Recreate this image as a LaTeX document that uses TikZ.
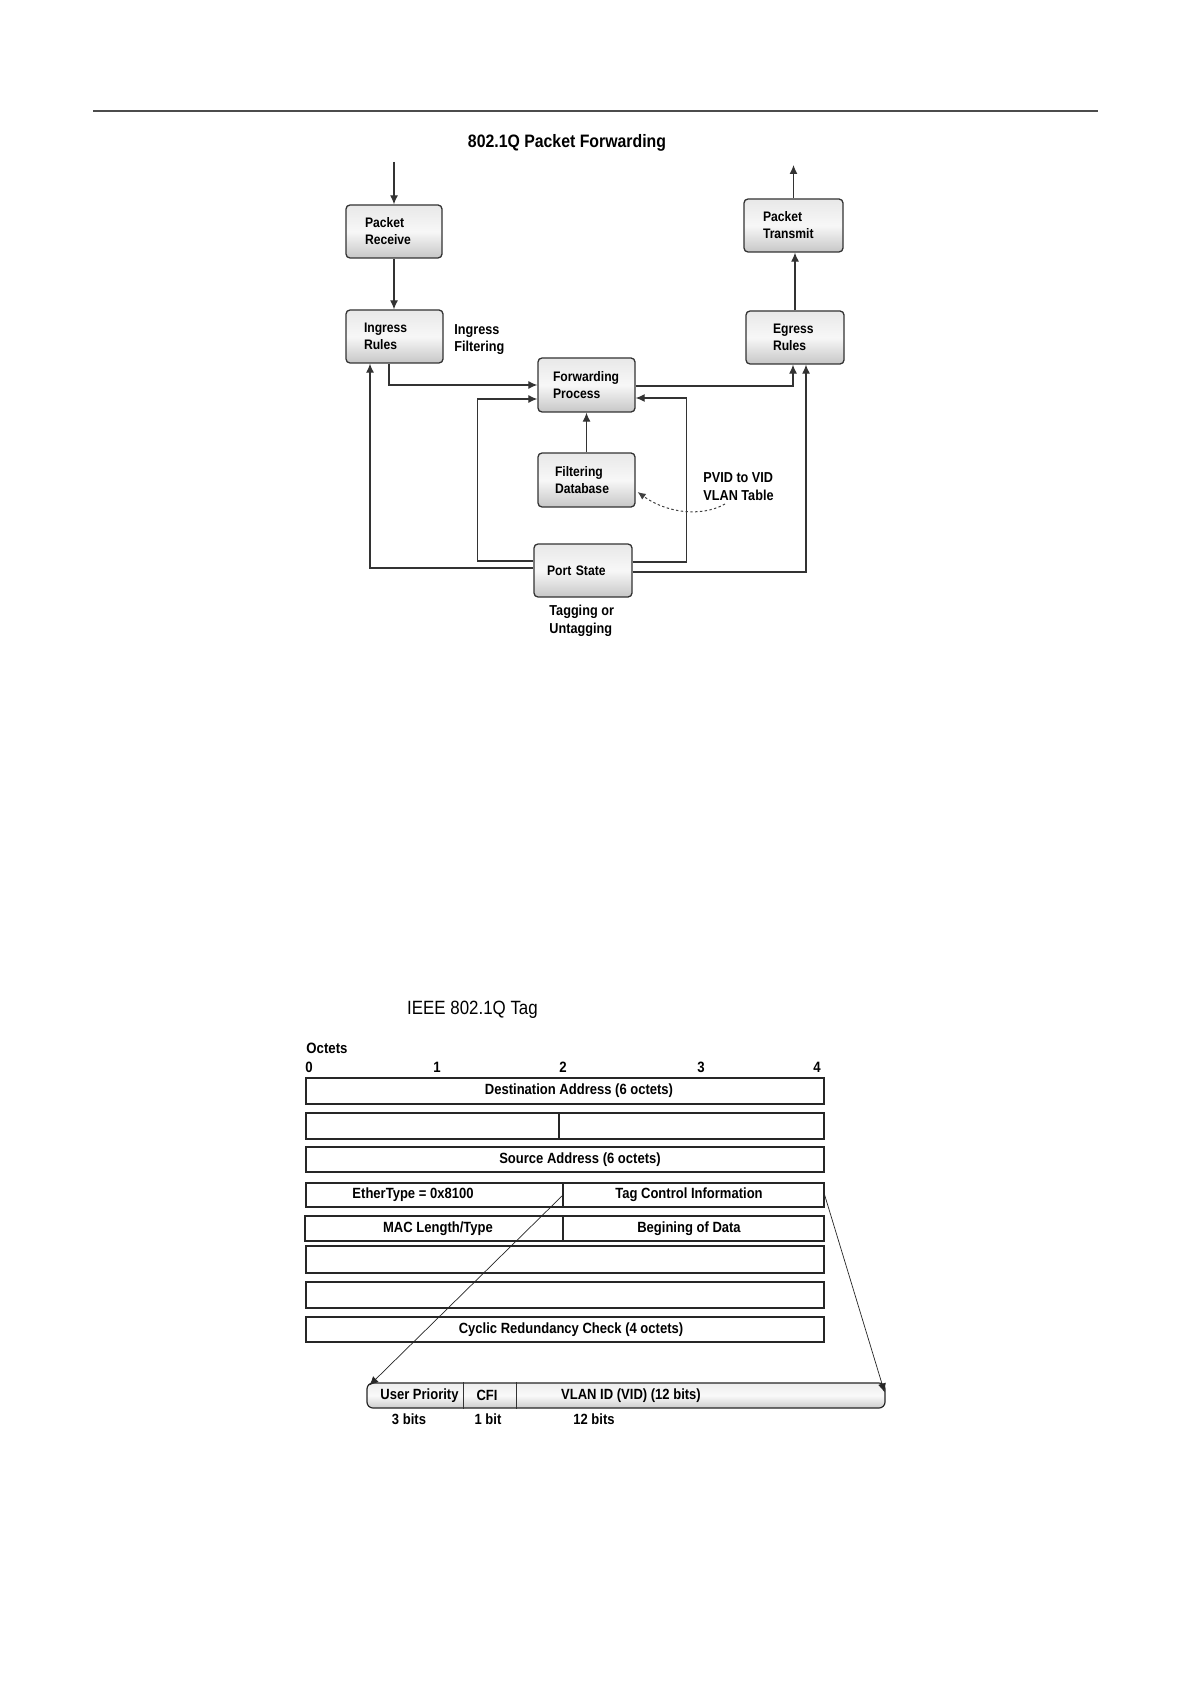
\documentclass[tikz,border=0pt]{standalone}
\usepackage{fontspec}
\setmainfont{Liberation Sans}[FakeStretch=0.88]
\usetikzlibrary{arrows.meta,calc}
\tikzset{
  fbox/.style={draw=black!80, line width=0.65pt, rounded corners=2pt,
    top color=black!9, bottom color=black!22, middle color=black!3,
    align=left, inner ysep=0pt, minimum height=26.5pt,
    font=\fontsize{6.9}{8.5}\selectfont\bfseries},
  flab/.style={align=left, inner sep=0pt, font=\fontsize{7.2}{8.8}\selectfont\bfseries},
  conn/.style={draw=black!80, line width=0.6pt, -{Latex[length=4.5pt,width=4pt]}},
  cell/.style={draw=black!85, line width=0.55pt, inner sep=0pt},
  ctext/.style={inner sep=0pt, font=\fontsize{7.4}{9}\selectfont\bfseries},
  thinarr/.style={draw=black!85, line width=0.35pt, -{Latex[length=4.5pt,width=4pt]}}
}
\begin{document}
\begin{tikzpicture}[x=0.5pt,y=-0.5pt]
\useasboundingbox (0,0) rectangle (1190,1684);
\fill[white] (0,0) rectangle (1190,1684);
% top rule
\coordinate (ruleL) at (93,111);
\coordinate (ruleR) at (1098,111);
\draw[black!70, line width=0.6pt] (ruleL) -- (ruleR);

% ---------- 802.1Q Packet Forwarding ----------
\node[inner sep=0pt, font=\fontsize{9}{11}\selectfont\bfseries] (title1) at (567,143) {802.1Q Packet Forwarding};

\node[fbox, inner xsep=9.5pt, text width=29pt] (PR) at (394,231.5) {Packet\\Receive};
\node[fbox, inner xsep=9pt, text width=30.5pt] (IR) at (394.5,336.5) {Ingress\\Rules};
\node[fbox, inner xsep=9.5pt, text width=30.5pt] (PT) at (793.5,225.5) {Packet\\Transmit};
\node[fbox, inner xsep=13.5pt, text width=22pt] (ER) at (795,337.5) {Egress\\Rules};
\node[fbox, inner xsep=7.5pt, text width=33.5pt, minimum height=27pt] (FP) at (586.5,385) {Forwarding\\Process};
\node[fbox, inner xsep=8.5pt, text width=31.5pt, minimum height=27pt] (FD) at (586.5,480) {Filtering\\Database};
\node[fbox, inner xsep=6.5pt, text width=36pt] (PS) at (583,570.5) {Port State};

\node[flab, anchor=west] (lIF) at (454,339.5) {Ingress\\Filtering};
\node[flab, anchor=west] (lPV) at (703,486.5) {PVID to VID\\VLAN Table};
\node[flab, anchor=west] (lTU) at (549,621) {Tagging or\\Untagging};

\coordinate (in) at (394,162);
\coordinate (out) at (793.5,165);

\draw[conn] (in) -- (PR.north);
\draw[conn] (PR.south) -- (PR.south |- IR.north);
\draw[conn] ($(IR.south)+(-5.5,0)$) |- (FP.west);
\draw[conn] ($(PS.west)+(0,-2.5)$) -| ($(IR.south)+(-24.5,0)$);
\draw[conn] ($(PS.west)+(0,-9.5)$) -| ($(FP.west)+(-60,14)$) -- ($(FP.west)+(0,14)$);
\draw[conn] ($(PS.east)+(0,-8.5)$) -| ($(FP.east)+(51,13)$) -- ($(FP.east)+(0,13)$);
\draw[conn] ($(FP.east)+(0,1)$) -| ($(ER.south)+(-2,0)$);
\draw[conn] ($(PS.east)+(0,1.5)$) -| ($(ER.south)+(11,0)$);
\draw[conn] (FD.north) -- (FD.north |- FP.south);
\draw[conn] (ER.north) -- (ER.north |- PT.south);
\draw[conn] (PT.north) -- (out);
\coordinate (pv) at (725,504);
\draw[draw=black!75, line width=0.5pt, dash pattern=on 1.2pt off 1.2pt,
  -{Latex[length=4pt,width=3.5pt]}]
  (pv) .. controls (700,518) and (665,512) .. ($(FD.east)+(2,12)$);

% ---------- IEEE 802.1Q Tag ----------
\node[inner sep=0pt, font=\fontsize{9.6}{11}\selectfont] (title2) at (472.5,1010) {IEEE 802.1Q Tag};
\node[ctext, anchor=west, font=\fontsize{7.5}{9}\selectfont\bfseries] (oct) at (306,1048) {Octets};
\node[ctext, font=\fontsize{7.5}{9}\selectfont\bfseries] (o0) at (309,1067) {0};
\node[ctext, font=\fontsize{7.5}{9}\selectfont\bfseries] (o1) at (437,1067) {1};
\node[ctext, font=\fontsize{7.5}{9}\selectfont\bfseries] (o2) at (563,1067) {2};
\node[ctext, font=\fontsize{7.5}{9}\selectfont\bfseries] (o3) at (701,1067) {3};
\node[ctext, font=\fontsize{7.5}{9}\selectfont\bfseries] (o4) at (817,1067) {4};

\node[cell, minimum width=259pt, minimum height=13pt] (r1) at (565,1091) {};
\node[cell, minimum width=126.5pt, minimum height=13pt] (r2a) at (432.5,1126) {};
\node[cell, minimum width=132.5pt, minimum height=13pt] (r2b) at (691.5,1126) {};
\node[cell, minimum width=259pt, minimum height=12.5pt] (r3) at (565,1159.5) {};
\node[cell, minimum width=128.5pt, minimum height=12pt] (r4a) at (434.5,1195) {};
\node[cell, minimum width=130.5pt, minimum height=12pt] (r4b) at (693.5,1195) {};
\node[cell, minimum width=129pt, minimum height=12.5pt] (r5a) at (434,1228.5) {};
\node[cell, minimum width=130.5pt, minimum height=12.5pt] (r5b) at (693.5,1228.5) {};
\node[cell, minimum width=259pt, minimum height=13.5pt] (r6) at (565,1259.5) {};
\node[cell, minimum width=259pt, minimum height=13pt] (r7) at (565,1295) {};
\node[cell, minimum width=259pt, minimum height=12.5pt] (r8) at (565,1329.5) {};

\node[ctext] (tDA) at (579,1091) {Destination Address (6 octets)};
\node[ctext] (tSA) at (580,1160) {Source Address (6 octets)};
\node[ctext] (tET) at (413,1195) {EtherType = 0x8100};
\node[ctext] (tTC) at (689,1195) {Tag Control Information};
\node[ctext] (tML) at (438,1228.5) {MAC Length/Type};
\node[ctext] (tBD) at (689,1228.5) {Begining of Data};
\node[ctext] (tCR) at (571,1330) {Cyclic Redundancy Check (4 octets)};

% tag control bar
\node[draw=black!85, line width=0.6pt, rounded corners=3pt, inner sep=0pt,
  top color=black!7, bottom color=black!20, middle color=black!2,
  minimum width=259pt, minimum height=12.5pt] (bar) at (626,1395.5) {};
\draw[black!80, line width=0.45pt] ($(bar.north west)+(97,0)$) -- ($(bar.south west)+(97,0)$);
\draw[black!80, line width=0.45pt] ($(bar.north west)+(150,0)$) -- ($(bar.south west)+(150,0)$);
\node[ctext] (tUP) at (419.5,1395.5) {User Priority};
\node[ctext] (tCFI) at (487,1395.5) {CFI};
\node[ctext] (tVID) at (631,1395.5) {VLAN ID (VID) (12 bits)};
\node[ctext] (b3) at (409,1419) {3 bits};
\node[ctext] (b1) at (488,1419) {1 bit};
\node[ctext] (b12) at (594,1419) {12 bits};

\coordinate (s1) at ($(r4a.north east)+(0,12)$);
\coordinate (s2) at ($(r4b.north east)+(-1,9)$);
\draw[thinarr] (s1) -- ($(bar.north west)+(3,3)$);
\draw[thinarr] (s2) -- ($(bar.north east)+(-1,10)$);
\end{tikzpicture}
\end{document}
